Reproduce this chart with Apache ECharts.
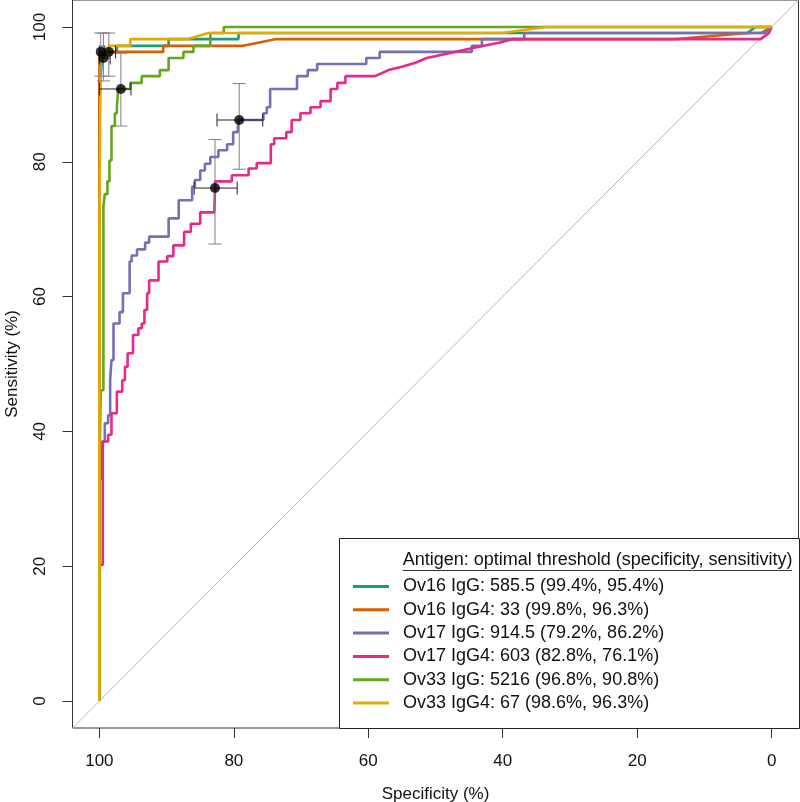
<!DOCTYPE html>
<html><head><meta charset="utf-8">
<script src="https://cdn.jsdelivr.net/npm/echarts@6/dist/echarts.min.js"></script>
<style>html,body{margin:0;padding:0;background:#fff}#c{width:800px;height:802px}</style>
</head><body><div id="c"></div>
<script>
// ---- data ----
const axisTicks = [0, 20, 40, 60, 80, 100];
const antigens = ['Ov16 IgG', 'Ov16 IgG4', 'Ov17 IgG', 'Ov17 IgG4', 'Ov33 IgG', 'Ov33 IgG4'];
const thresholds = ['585.5', '33', '914.5', '603', '5216', '67'];
const optSpec = [99.4, 99.8, 79.2, 82.8, 96.8, 98.6];
const optSens = [95.4, 96.3, 86.2, 76.1, 90.8, 96.3];
const ciSpecLo = [100, 100, 82.5, 85.9, 100, 99.6];
const ciSpecHi = [98.4, 99.2, 75.7, 79.5, 95.3, 97.6];
const ciSensLo = [92.0, 92.7, 78.9, 67.8, 85.3, 92.7];
const ciSensHi = [99.1, 99.1, 91.6, 83.3, 96.1, 99.1];
const legendTitle = 'Antigen: optimal threshold (specificity, sensitivity)';
const diagonal = [[104, -4], [-4, 104]];

// ROC curves: [specificity, sensitivity]
const rocOv16IgG = [[100,0],[100,88.1],[99.8,88.1],[99.8,92.7],[99.6,92.7],[99.6,95.4],[99.4,95.4],[99.4,96.3],[97.4,96.3],[97.4,97.2],[89.7,97.2],[89.7,98.2],[79.3,98.2],[79.3,99.1],[3.6,99.1],[2.4,100],[0,100]];
const rocOv16IgG4 = [[100,0],[100,96.3],[90.5,96.3],[90.5,97.2],[78.6,97.2],[73.7,98.2],[14.2,98.2],[3.6,99.1],[1.6,99.1],[0,100]];
const rocOv17IgG = [[100,0],[100,33],[99.6,33],[99.6,38.5],[99.2,38.5],[99.2,41.2],[98.7,41.2],[98.7,42.4],[98.4,42.4],[98.4,47.6],[98.2,47.6],[98.2,50.6],[97.9,50.6],[97.9,56.0],[97.0,56.0],[97.0,57.7],[96.5,57.7],[96.5,60.5],[95.5,60.5],[95.5,65.2],[95.2,65.2],[95.2,66.1],[94.4,66.1],[94.4,67.0],[93.2,67.0],[93.2,68.0],[92.6,68.0],[92.6,68.9],[89.7,68.9],[89.7,71.6],[88.2,71.6],[88.2,74.3],[86.2,74.3],[86.2,76.3],[85.8,76.3],[85.8,77.3],[85.0,77.3],[85.0,78.7],[84.3,78.7],[84.3,79.7],[83.5,79.7],[83.5,80.7],[82.3,80.7],[82.3,81.7],[81.0,81.7],[81.0,82.6],[80.1,82.6],[80.1,84.4],[79.4,84.4],[79.4,85.3],[79.2,85.3],[79.2,86.2],[75.6,86.2],[75.6,87.2],[75.1,87.2],[75.1,88.1],[74.6,88.1],[74.6,90.8],[70.6,90.8],[70.6,92.7],[69.0,92.7],[69.0,93.6],[67.6,93.6],[67.6,94.5],[60.3,94.5],[60.3,95.4],[58.3,95.4],[58.3,96.3],[44.6,96.3],[44.6,97.2],[43.1,97.2],[43.1,98.2],[36.8,98.2],[36.8,99.1],[1.0,99.1],[0,100]];
const rocOv17IgG4 = [[100,0],[100,20.2],[99.5,20.2],[99.5,38.5],[98.7,38.5],[98.7,39.5],[98.2,39.5],[98.2,42.7],[97.4,42.7],[97.4,45.9],[96.6,45.9],[96.6,47.6],[96.2,47.6],[96.2,49.6],[95.8,49.6],[95.8,51.6],[95.0,51.6],[95.0,54.3],[94.2,54.3],[94.2,55.3],[93.7,55.3],[93.7,56.0],[93.3,56.0],[93.3,58.0],[92.9,58.0],[92.9,60.5],[92.6,60.5],[92.6,62.4],[91.2,62.4],[91.2,65.2],[89.9,65.2],[89.9,66.0],[89.0,66.0],[89.0,67.6],[87.4,67.6],[87.4,69.6],[86.4,69.6],[86.4,70.8],[85.0,70.8],[85.0,72.5],[82.9,72.5],[82.8,76.1],[82.8,77.1],[80.3,77.1],[80.3,78.0],[77.8,78.0],[77.8,79.0],[76.6,79.0],[76.6,79.8],[74.5,79.8],[74.5,82.6],[74.0,82.6],[74.0,83.5],[72.2,83.5],[72.2,84.4],[71.4,84.4],[71.4,86.2],[70.1,86.2],[70.1,87.2],[68.6,87.2],[68.6,88.1],[67.1,88.1],[67.1,89.0],[65.6,89.0],[65.6,90.8],[64.6,90.8],[64.6,91.7],[63.4,91.7],[63.4,92.7],[59.0,92.7],[57.0,93.6],[55.0,94.1],[53.0,94.7],[51.3,95.4],[48.0,96.1],[44.8,96.8],[40.4,97.7],[38.5,98.2],[1.6,98.2],[0.4,99.1],[0,100]];
const rocOv33IgG = [[100,0],[100,33],[99.8,33],[99.8,46.1],[99.4,46.1],[99.4,73.4],[99.2,73.4],[99.2,75.2],[98.8,75.2],[98.8,77.1],[98.5,77.1],[98.5,80.2],[98.2,80.2],[98.2,85.3],[97.7,85.3],[97.7,87.2],[97.4,87.2],[97.4,88.1],[97.2,88.1],[97.2,90.8],[95.4,90.8],[95.4,91.7],[93.7,91.7],[93.7,92.7],[91.0,92.7],[91.0,93.6],[89.7,93.6],[89.7,95.4],[87.5,95.4],[87.5,96.3],[86.0,96.3],[86.0,97.2],[83.5,97.2],[83.5,99.1],[81.5,99.1],[81.5,100],[0,100]];
const rocOv33IgG4 = [[100,0],[100,70.6],[99.8,70.6],[99.8,96.3],[98.6,96.3],[98.6,97.2],[95.4,97.2],[95.4,98.2],[86.8,98.2],[83.8,99.1],[40.1,99.1],[33.5,100],[0,100]];
const curves = [rocOv16IgG, rocOv16IgG4, rocOv17IgG, rocOv17IgG4, rocOv33IgG, rocOv33IgG4];
const colors = ['#1B9E77', '#D95F02', '#7570B3', '#E7298A', '#66A61E', '#E6AB02'];

// ---- chart ----
const FONT = 'Liberation Sans, Arial, sans-serif';
const labels = antigens.map((a, i) => `${a}: ${thresholds[i]} (${optSpec[i]}%, ${optSens[i]}%)`);
const chart = echarts.init(document.getElementById('c'), null, {renderer: 'canvas'});

const series = [{
  type: 'line', data: diagonal, showSymbol: false, silent: true,
  lineStyle: {color: '#B8B8B8', width: 1}, z: 1
}];
curves.forEach((c, i) => series.push({
  type: 'line', name: labels[i], data: c, showSymbol: false,
  lineStyle: {color: colors[i], width: 2.6}, itemStyle: {color: colors[i]}, z: 2
}));
series.push({
  type: 'custom', z: 5, silent: true,
  data: optSpec.map((s, i) => [s, optSens[i], ciSpecLo[i], ciSpecHi[i], ciSensLo[i], ciSensHi[i]]),
  encode: {x: 0, y: 1},
  renderItem: function (params, api) {
    const s = api.value(0), se = api.value(1);
    const h1 = api.coord([api.value(2), se]), h2 = api.coord([api.value(3), se]);
    const v1 = api.coord([s, api.value(4)]), v2 = api.coord([s, api.value(5)]);
    const cap = 6.5;
    const hs = {stroke: '#222', lineWidth: 1};
    const vs = {stroke: '#808080', lineWidth: 1};
    const L = (x1, y1, x2, y2, st) => ({type: 'line', shape: {x1, y1, x2, y2}, style: st});
    return {type: 'group', children: [
      L(v1[0], v1[1], v2[0], v2[1], vs),
      L(v1[0] - cap, v1[1], v1[0] + cap, v1[1], vs),
      L(v2[0] - cap, v2[1], v2[0] + cap, v2[1], vs),
      L(h1[0], h1[1], h2[0], h2[1], hs),
      L(h1[0], h1[1] - cap, h1[0], h1[1] + cap, hs),
      L(h2[0], h2[1] - cap, h2[0], h2[1] + cap, hs)
    ]};
  }
});
series.push({
  type: 'scatter', z: 6, silent: true, symbolSize: 10,
  data: optSpec.map((s, i) => [s, optSens[i]]),
  itemStyle: {color: '#000'}
});

const axisCommon = {
  type: 'value', min: -4, max: 104,
  axisLine: {show: false, onZero: false},
  splitLine: {show: false},
  axisTick: {show: true, length: 10, inside: false, customValues: axisTicks, lineStyle: {color: '#333', width: 1}},
  nameLocation: 'middle',
  nameTextStyle: {fontFamily: FONT, fontSize: 17, color: '#111'}
};

chart.setOption({
  animation: false,
  backgroundColor: '#fff',
  textStyle: {fontFamily: FONT},
  grid: {left: 72.5, right: 1.5, top: 0, bottom: 74, show: true, borderColor: '#333', borderWidth: 1, containLabel: false, outerBoundsMode: 'none'},
  xAxis: Object.assign({}, axisCommon, {
    inverse: true, name: 'Specificity (%)', nameGap: 58,
    axisLabel: {customValues: axisTicks, margin: 25, fontFamily: FONT, fontSize: 17, color: '#111'}
  }),
  yAxis: Object.assign({}, axisCommon, {
    name: 'Sensitivity (%)', nameGap: 52, nameRotate: 90,
    axisLabel: {customValues: axisTicks, rotate: 90, margin: 24, fontFamily: FONT, fontSize: 17, color: '#111'}
  }),
  legend: {
    data: labels, orient: 'vertical', left: 353, top: 577.5, padding: 0,
    itemWidth: 36, itemHeight: 3, itemGap: 5.3, icon: 'rect',
    selectedMode: false,
    textStyle: {fontFamily: FONT, fontSize: 18, color: '#111', lineHeight: 18, padding: [0, 0, 0, 9]}
  },
  graphic: [
    {type: 'rect', z: 3, shape: {x: 339.5, y: 538.5, width: 460, height: 190}, style: {fill: '#fff', stroke: '#222', lineWidth: 1}},
    {type: 'text', z: 4, x: 402.7, y: 560, style: {text: legendTitle, font: '18px ' + FONT, fill: '#111', verticalAlign: 'middle', align: 'left'}},
    {type: 'line', z: 4, shape: {x1: 402.7, y1: 570.5, x2: 792, y2: 570.5}, style: {stroke: '#333', lineWidth: 1}}
  ],
  series: series
});
</script></body></html>
